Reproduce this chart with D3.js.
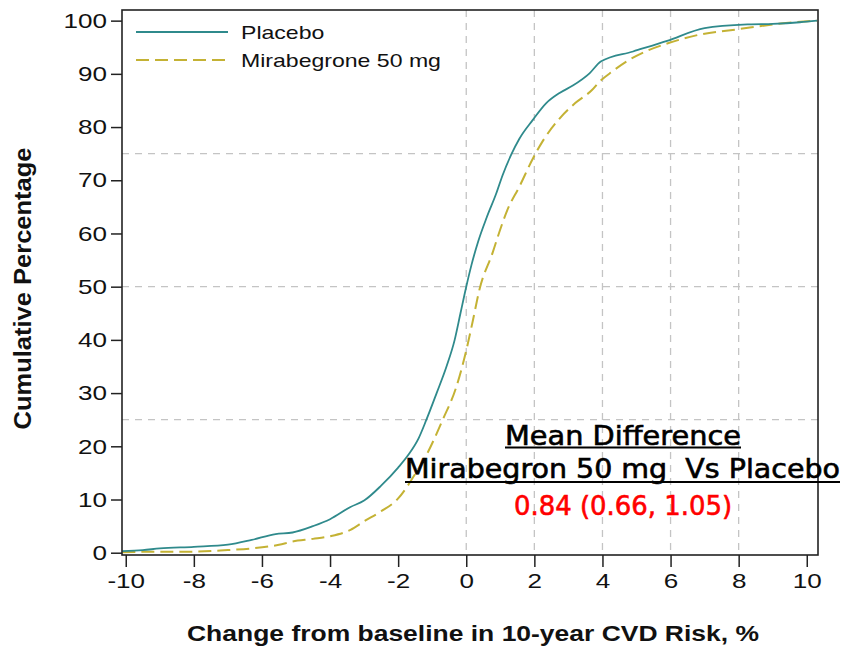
<!DOCTYPE html>
<html>
<head>
<meta charset="utf-8">
<script src="https://cdn.jsdelivr.net/npm/d3@7"></script>
<style>
  html, body { margin: 0; padding: 0; background: #fff; }
  svg { display: block; }
</style>
</head>
<body>
<svg id="chart" width="846" height="649"></svg>
<script>
// ---- data ----
const seriesNames = ["Placebo", "Mirabegrone 50 mg"];
const placeboX = [-10.1, -9.5, -9, -8, -7, -6.3, -5.6, -5.1, -4.5, -4.0, -3.4, -3.0, -2.5, -2.0, -1.7, -1.4, -1.17, -0.87, -0.58, -0.34, -0.17, 0.0, 0.15, 0.35, 0.6, 0.88, 1.07, 1.32, 1.56, 1.95, 2.35, 2.74, 3.13, 3.62, 3.95, 4.9, 5.9, 7.0, 8.3, 9.0, 9.8, 10.3];
const placeboY = [0.3, 0.5, 0.8, 1.1, 1.5, 2.4, 3.5, 3.8, 5.0, 6.3, 8.6, 9.8, 12.6, 16.0, 18.4, 21.5, 25, 30, 35, 40, 45, 50, 54, 58.5, 63, 67.5, 71, 74.8, 77.8, 81.3, 84.5, 86.4, 87.8, 90.1, 92.3, 94.2, 96.2, 98.6, 99.3, 99.4, 99.7, 100];
const miraX = [-10.1, -9, -8, -7, -6.3, -5.5, -5.1, -4.5, -4.0, -3.4, -3.0, -2.5, -2.0, -1.76, -1.5, -1.2, -0.69, -0.29, 0.0, 0.19, 0.39, 0.78, 1.0, 1.2, 1.56, 1.95, 2.25, 2.74, 3.2, 3.7, 3.91, 4.3, 4.7, 5.3, 5.9, 6.8, 8.0, 9.3, 10.3];
const miraY = [0.1, 0.2, 0.2, 0.5, 0.8, 1.5, 2.1, 2.6, 3.1, 4.3, 5.9, 7.8, 10.2, 12.2, 14.8, 18, 25, 31.2, 38, 43.5, 49.5, 56.5, 60.8, 64.3, 68.8, 74, 77.4, 81.6, 84.5, 87, 88.5, 90.5, 92.3, 94.3, 95.7, 97.3, 98.4, 99.5, 100];
const xTicks = [-10, -8, -6, -4, -2, 0, 2, 4, 6, 8, 10];
const yTicks = [0, 10, 20, 30, 40, 50, 60, 70, 80, 90, 100];
const xGrid = [0, 2, 4, 6, 8];
const yGrid = [25, 50, 75];
const xTitle = "Change from baseline in 10-year CVD Risk, %";
const yTitle = "Cumulative Percentage";
const annoLines = ["Mean Difference", "Mirabegron 50 mg  Vs Placebo", "0.84 (0.66, 1.05)"];

// ---- layout ----
const L = 122, R = 818, T = 10, B = 555;
const STRETCH = 1.24; // reference text is horizontally wide
const svg = d3.select("#chart");
const x = d3.scaleLinear().domain([-10.11, 10.33]).range([L, R]);
const y = d3.scaleLinear().domain([-0.43, 102]).range([B, T]);
const sansFont = "'Liberation Sans', Arial, sans-serif";
function widen(sel, k) {
  sel.each(function() {
    const w = this.getComputedTextLength();
    d3.select(this).attr("textLength", w * k).attr("lengthAdjust", "spacingAndGlyphs");
  });
}

// gridlines
svg.append("g").selectAll("line").data(xGrid).join("line")
  .attr("x1", d => x(d)).attr("x2", d => x(d)).attr("y1", T).attr("y2", B)
  .attr("stroke", "#c4c4c4").attr("stroke-width", 1.3).attr("stroke-dasharray", "7,6");
svg.append("g").selectAll("line").data(yGrid).join("line")
  .attr("x1", L).attr("x2", R).attr("y1", d => y(d)).attr("y2", d => y(d))
  .attr("stroke", "#c4c4c4").attr("stroke-width", 1.3).attr("stroke-dasharray", "7,6");

// axes
const yAxis = svg.append("g").attr("transform", `translate(${L},0)`)
  .call(d3.axisLeft(y).tickValues(yTicks).tickSize(11).tickSizeOuter(0).tickPadding(4));
const xAxis = svg.append("g").attr("transform", `translate(0,${B})`)
  .call(d3.axisBottom(x).tickValues(xTicks).tickSize(12).tickSizeOuter(0).tickPadding(6)
    .tickFormat(d3.format("d")));
[yAxis, xAxis].forEach(g => {
  g.select(".domain").remove();
  g.selectAll(".tick line").attr("stroke", "#222").attr("stroke-width", 1.5);
  g.selectAll(".tick text").attr("fill", "#111").style("font-family", sansFont).style("font-size", "21px");
});
xAxis.selectAll(".tick text").text(d => d < 0 ? "-" + Math.abs(d) : d);
widen(yAxis.selectAll(".tick text"), STRETCH);
widen(xAxis.selectAll(".tick text"), STRETCH);

// lines
const line = d3.line().x(d => x(d[0])).y(d => y(d[1])).curve(d3.curveMonotoneX);
const placebo = placeboX.map((v, i) => [v, placeboY[i]]);
const mira = miraX.map((v, i) => [v, miraY[i]]);
svg.append("path").datum(mira).attr("d", line).attr("fill", "none")
  .attr("stroke", "#c4b234").attr("stroke-width", 2).attr("stroke-dasharray", "13,6");
svg.append("path").datum(placebo).attr("d", line).attr("fill", "none")
  .attr("stroke", "#2f8a8c").attr("stroke-width", 1.8);

// frame
svg.append("rect").attr("x", L).attr("y", T).attr("width", R - L).attr("height", B - T)
  .attr("fill", "none").attr("stroke", "#222").attr("stroke-width", 1.6);

// legend
const legend = [
  { name: seriesNames[0], color: "#2f8a8c", dash: null, y: 32 },
  { name: seriesNames[1], color: "#c4b234", dash: "13,6", y: 60 }
];
const lg = svg.append("g");
legend.forEach(d => {
  lg.append("line").attr("x1", 136).attr("x2", 228).attr("y1", d.y).attr("y2", d.y)
    .attr("stroke", d.color).attr("stroke-width", 2).attr("stroke-dasharray", d.dash);
  const t = lg.append("text").attr("x", 241).attr("y", d.y).attr("dy", "0.36em")
    .style("font-family", sansFont).style("font-size", "18.6px").attr("fill", "#111").text(d.name);
  widen(t, STRETCH);
});

// axis titles
const xt = svg.append("text").attr("x", (L + R) / 2 + 3).attr("y", 641)
  .attr("text-anchor", "middle").style("font-family", sansFont).style("font-weight", "bold")
  .style("font-size", "21.5px").attr("fill", "#111").text(xTitle);
xt.attr("textLength", 572).attr("lengthAdjust", "spacingAndGlyphs");
svg.append("text").attr("transform", `translate(31,${(T + B) / 2 + 6}) rotate(-90)`)
  .attr("text-anchor", "middle").style("font-family", sansFont).style("font-weight", "bold")
  .style("font-size", "24px").attr("fill", "#111").text(yTitle)
  .attr("textLength", 282).attr("lengthAdjust", "spacingAndGlyphs");

// annotation
const annoFont = "'DejaVu Sans', Verdana, sans-serif";
const anno = [
  { t: annoLines[0], x0: 505, x1: 741, base: 445, ul: 447.5, color: "#000" },
  { t: annoLines[1], x0: 405, x1: 840, base: 478, ul: 482, color: "#000" },
  { t: annoLines[2], x0: 514, x1: 732, base: 515, ul: null, color: "#ff0000" }
];
anno.forEach(a => {
  svg.append("text").attr("x", a.x0).attr("y", a.base)
    .attr("textLength", a.x1 - a.x0).attr("lengthAdjust", "spacingAndGlyphs")
    .attr("xml:space", "preserve").style("white-space", "pre")
    .style("font-family", annoFont).style("font-size", "26px")
    .attr("fill", a.color).attr("stroke", a.color).attr("stroke-width", 0.6).text(a.t);
  if (a.ul !== null) {
    svg.append("line").attr("x1", a.x0).attr("x2", a.x1).attr("y1", a.ul).attr("y2", a.ul)
      .attr("stroke", "#000").attr("stroke-width", 2.2);
  }
});
</script>
</body>
</html>
